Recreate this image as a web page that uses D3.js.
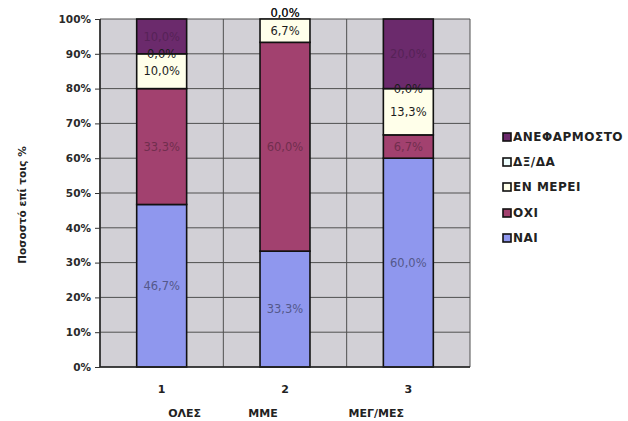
<!DOCTYPE html>
<html>
<head>
<meta charset="utf-8">
<script src="https://cdn.jsdelivr.net/npm/d3@7"></script>
<style>
  body { margin: 0; background: #fff; }
  text { font-family: "DejaVu Sans", Arial, sans-serif; }
</style>
</head>
<body>
<svg id="chart" width="628" height="421"></svg>
<script>
// Answer shares per company group (percent of respondents)
const categories = ["1", "2", "3"];
const groupNames = ["ΟΛΕΣ", "ΜΜΕ", "ΜΕΓ/ΜΕΣ"];
const seriesNames = ["ΝΑΙ", "ΟΧΙ", "ΕΝ ΜΕΡΕΙ", "ΔΞ/ΔΑ", "ΑΝΕΦΑΡΜΟΣΤΟ"];
const nai = [46.7, 33.3, 60.0];
const oxi = [33.3, 60.0, 6.7];
const enMerei = [10.0, 6.7, 13.3];
const dxda = [0.0, 0.0, 0.0];
const anefarmosto = [10.0, 0.0, 20.0];
const yTicks = [0, 10, 20, 30, 40, 50, 60, 70, 80, 90, 100];
const yTitle = "Ποσοστό επί τοις %";

const seriesValues = [nai, oxi, enMerei, dxda, anefarmosto];
const colors = ["#8f97ee", "#a2416f", "#ffffea", "#eefefe", "#6b2a6c"];
const labelDarken = [1.5, 1.0, null, null, 0.6];

const rows = categories.map((c, i) => {
  const r = { cat: c };
  seriesNames.forEach((s, j) => { r[s] = seriesValues[j][i]; });
  return r;
});
const stacked = d3.stack().keys(seriesNames)(rows);

const svg = d3.select("#chart");
const plot = { left: 100, right: 470, top: 19, bottom: 367 };

const x = d3.scaleBand().domain(categories)
  .range([plot.left, plot.right]).paddingInner(0.595).paddingOuter(0.2975);
const y = d3.scaleLinear().domain([0, 100]).range([plot.bottom, plot.top]);
const step = x.step();

// plot area background
svg.append("rect")
  .attr("x", plot.left).attr("y", plot.top)
  .attr("width", plot.right - plot.left).attr("height", plot.bottom - plot.top)
  .attr("fill", "#d2d0d6");

// horizontal gridlines
svg.append("g").selectAll("line").data(yTicks).join("line")
  .attr("x1", plot.left).attr("x2", plot.right)
  .attr("y1", d => y(d)).attr("y2", d => y(d))
  .attr("stroke", "#505050").attr("stroke-width", 1);

// vertical gridlines at category boundaries
svg.append("g").selectAll("line").data(d3.range(categories.length + 1)).join("line")
  .attr("x1", i => plot.left + i * step).attr("x2", i => plot.left + i * step)
  .attr("y1", plot.top).attr("y2", plot.bottom)
  .attr("stroke", "#505050").attr("stroke-width", 1);

// stacked bars
const layers = svg.append("g").selectAll("g").data(stacked).join("g")
  .attr("fill", (d, i) => colors[i]);
layers.selectAll("rect").data(d => d).join("rect")
  .attr("x", d => x(d.data.cat))
  .attr("width", x.bandwidth())
  .attr("y", d => y(d[1]))
  .attr("height", d => y(d[0]) - y(d[1]))
  .attr("stroke", "#111").attr("stroke-width", 1.6);

// axes lines
svg.append("line").attr("x1", plot.left).attr("x2", plot.left)
  .attr("y1", plot.top).attr("y2", plot.bottom).attr("stroke", "#222").attr("stroke-width", 1.5);
svg.append("line").attr("x1", plot.left).attr("x2", plot.right)
  .attr("y1", plot.bottom).attr("y2", plot.bottom).attr("stroke", "#222").attr("stroke-width", 1.5);

// y axis
const yAxis = d3.axisLeft(y).tickValues(yTicks).tickSize(5).tickPadding(4)
  .tickFormat(d => d + "%");
const yg = svg.append("g").attr("transform", `translate(${plot.left},0)`).call(yAxis);
yg.select(".domain").remove();
yg.selectAll(".tick line").attr("stroke", "#333");
yg.selectAll(".tick text")
  .attr("font-family", "DejaVu Sans, Arial, sans-serif")
  .attr("font-size", 10.5).attr("font-weight", "bold").attr("fill", "#2a2a2a");

// x axis
const xAxis = d3.axisBottom(x).tickSize(0).tickPadding(18);
const xg = svg.append("g").attr("transform", `translate(0,${plot.bottom})`).call(xAxis);
xg.select(".domain").remove();
xg.selectAll(".tick text")
  .attr("font-family", "DejaVu Sans, Arial, sans-serif")
  .attr("font-size", 11).attr("font-weight", "bold").attr("fill", "#222");

// group names under the category numbers
const groupOffsets = [23, -22, -32];
svg.append("g").selectAll("text").data(groupNames).join("text")
  .attr("x", (d, i) => x(categories[i]) + x.bandwidth() / 2 + groupOffsets[i])
  .attr("y", 417)
  .attr("text-anchor", "middle")
  .attr("font-size", 11).attr("font-weight", "bold").attr("fill", "#222")
  .text(d => d);

// y axis title
svg.append("text")
  .attr("transform", `translate(26,205) rotate(-90)`)
  .attr("text-anchor", "middle")
  .attr("font-size", 10.5).attr("font-weight", "bold").attr("fill", "#222")
  .text(yTitle);

// data labels; zero-height segments at the very top of a bar sit just above it
const fmt = v => d3.format(".1f")(v).replace(".", ",") + "%";
const atTopZero = d => d[1] - d[0] === 0 && d[1] >= 100;
stacked.forEach((layer, i) => {
  const col = labelDarken[i] == null ? "#1c1c1c" : d3.color(colors[i]).darker(labelDarken[i]).formatHex();
  svg.append("g").selectAll("text").data(layer).join("text")
    .attr("x", d => x(d.data.cat) + x.bandwidth() / 2)
    .attr("y", d => (y(d[0]) + y(d[1])) / 2 - (atTopZero(d) ? 6 : 0))
    .attr("dy", "0.36em")
    .attr("text-anchor", "middle")
    .attr("font-size", 11.5)
    .attr("fill", d => atTopZero(d) ? "#1c1c1c" : col)
    .text(d => fmt(d[1] - d[0]));
});

// legend (top series first)
const legendY = [137, 162, 187, 213, 238];
const legend = svg.append("g");
const order = d3.range(seriesNames.length).reverse();
order.forEach((si, k) => {
  const g = legend.append("g").attr("transform", `translate(503,${legendY[k]})`);
  g.append("rect").attr("x", 0).attr("y", -4).attr("width", 8).attr("height", 8)
    .attr("fill", colors[si]).attr("stroke", "#111").attr("stroke-width", 1.6);
  g.append("text").attr("x", 10).attr("dy", "0.36em")
    .attr("font-size", 12).attr("font-weight", "bold").attr("fill", "#222")
    .attr("letter-spacing", 0.5)
    .text(seriesNames[si]);
});
</script>
</body>
</html>
